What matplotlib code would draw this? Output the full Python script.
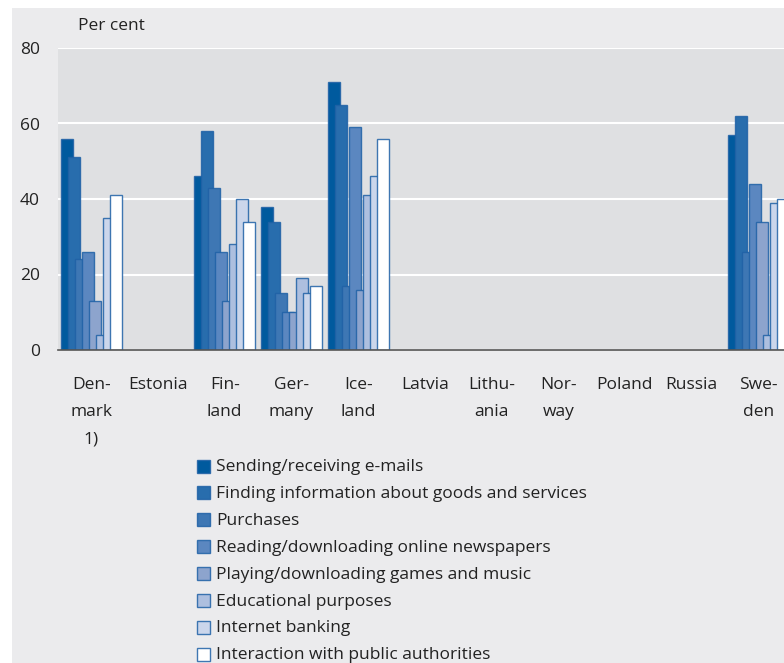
import numpy as np
import matplotlib.pyplot as plt
from matplotlib.patches import Rectangle

plt.rcParams['font.family'] = ['Open Sans', 'DejaVu Sans']

# ------------------------
# Data
# ------------------------
countries = ["Den-\nmark\n1)", "Estonia", "Fin-\nland", "Ger-\nmany", "Ice-\nland", "Latvia",
             "Lithu-\nania", "Nor-\nway", "Poland", "Russia", "Swe-\nden"]
series_names = [
    "Sending/receiving e-mails",
    "Finding information about goods and services",
    "Purchases",
    "Reading/downloading online newspapers",
    "Playing/downloading games and music",
    "Educational purposes",
    "Internet banking",
    "Interaction with public authorities",
]
nan = np.nan
# one list per country (Denmark, Estonia, Finland, ...), 8 values in series order
denmark = [56, 51, 24, 26, 13, 4, 35, 41]
estonia = [nan] * 8
finland = [46, 58, 43, 26, 13, 28, 40, 34]
germany = [38, 34, 15, 10, 10, 19, 15, 17]
iceland = [71, 65, 17, 59, 16, 41, 46, 56]
latvia = [nan] * 8
lithuania = [nan] * 8
norway = [nan] * 8
poland = [nan] * 8
russia = [nan] * 8
sweden = [57, 62, 26, 44, 34, 4, 39, 40]

values = np.array([denmark, estonia, finland, germany, iceland, latvia,
                   lithuania, norway, poland, russia, sweden]).T

colors = ["#005a9e", "#286dad", "#3e77b4", "#5b87c0", "#8da4cd", "#adbfdf", "#cbd6eb", "#ffffff"]
edge = (0.12, 0.38, 0.65, 0.85)

# ------------------------
# Figure
# ------------------------
W, H = 784, 663
fig = plt.figure(figsize=(W / 100, H / 100), dpi=100)
fig.patch.set_facecolor("white")
fig.patches.append(Rectangle((12 / W, 0), 1, 1 - 8 / H, transform=fig.transFigure,
                             facecolor="#ebebed", edgecolor="none", zorder=-10))

ax = fig.add_axes([58 / W, 1 - 350 / H, (W - 58) / W, (350 - 48) / H])
ax.set_facecolor("#dfe0e2")

x = np.arange(len(countries))
step = 7 / 66.7
width = 12 / 66.7
offset0 = -3.5 * step
for i in range(len(series_names)):
    ax.bar(x + offset0 + i * step, values[i], width=width, color=colors[i],
           edgecolor=edge, linewidth=1.0, zorder=3 + i)

ax.set_xlim(-0.5, -0.5 + (W - 58) / 66.7)
ax.set_ylim(0, 80)
ax.set_yticks([0, 20, 40, 60, 80])
ax.yaxis.grid(True, color="white", linewidth=1.5, zorder=0)
ax.set_axisbelow(True)
for s in ["top", "right", "left"]:
    ax.spines[s].set_visible(False)
ax.spines["bottom"].set_color("#555555")
ax.spines["bottom"].set_linewidth(1.2)
ax.spines["bottom"].set_zorder(20)
ax.tick_params(axis="y", length=0, pad=13, labelsize=12.5, labelcolor="#222222")
ax.tick_params(axis="x", length=0, pad=19.5, labelsize=12.5, labelcolor="#222222")
ax.set_xticks(x)
ax.set_xticklabels(countries, linespacing=1.95, va="top")

fig.text(78 / W, 1 - 26 / H, "Per cent", fontsize=12.5, color="#222222", va="center")

# legend
for i, name in enumerate(series_names):
    yc = 466 + i * 26.9
    fig.patches.append(Rectangle((197 / W, 1 - (yc + 6.5) / H), 13 / W, 13 / H,
                                 transform=fig.transFigure, facecolor=colors[i],
                                 edgecolor=edge, linewidth=1.0))
    fig.text(216 / W, 1 - (yc + 1) / H, name, fontsize=12.5, color="#222222", va="center")

fig.savefig("out.png", dpi=100)
